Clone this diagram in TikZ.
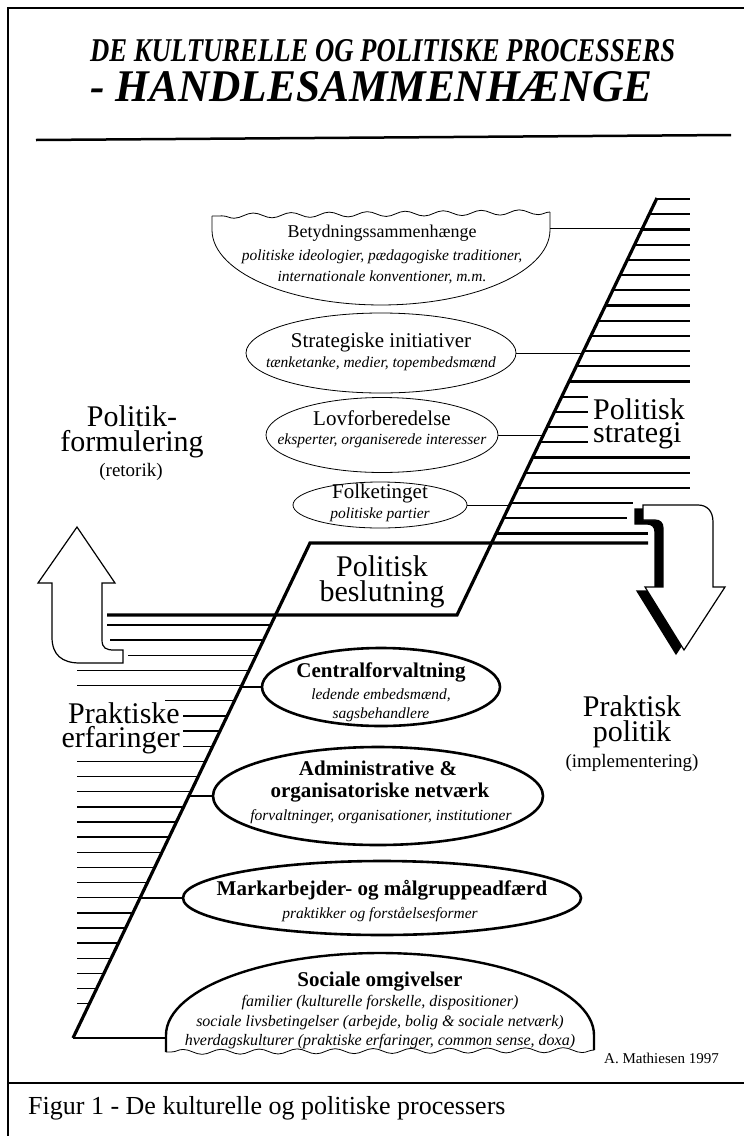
\documentclass[tikz,border=0pt]{standalone}
\usepackage{graphicx}
\usepackage{fontspec}
\setmainfont{Liberation Serif}
\usetikzlibrary{shapes.geometric,decorations.pathmorphing}

\begin{document}
\begin{tikzpicture}[x=1pt, y=-1pt,
	thinell/.style={ellipse, draw, line width=0.8pt, inner sep=0pt},
	boldell/.style={ellipse, draw, line width=2.6pt, inner sep=0pt},
	link/.style={line width=0.8pt},
	boldlink/.style={line width=2.2pt},
	slant/.style={line width=3.2pt},
	hatch/.style={line width=2.2pt},
	lhatch/.style={line width=1.4pt},
	wave/.style={decorate, decoration={snake, amplitude=2.5pt, segment length=38pt}, line width=0.8pt},
	eltitle/.style={font=\fontsize{21}{21}\selectfont, inner sep=0pt},
	elbold/.style={font=\fontsize{21}{21}\selectfont\bfseries, inner sep=0pt},
	elsub/.style={font=\fontsize{15.5}{15.5}\selectfont\itshape, inner sep=0pt},
	biglab/.style={font=\fontsize{30}{25}\selectfont, inner sep=0pt, align=center},
	parenlab/.style={font=\fontsize{19}{19}\selectfont, inner sep=0pt}
	]
	\useasboundingbox (0,0) rectangle (744,1136);
	
	% Frame and caption
	\draw[line width=2.5pt] (8,1136) -- (8,8) -- (744,8);
	\draw[line width=2.5pt] (8,1083) -- (744,1083);
	\node[anchor=west, inner sep=0pt, font=\fontsize{26}{26}\selectfont] (caption) at (28,1108) {Figur 1 - De kulturelle og politiske processers};
	
	% Title
	\node[anchor=south west, inner sep=0pt] (title1) at (90,62) {\resizebox{585pt}{22pt}{\bfseries\itshape DE KULTURELLE OG POLITISKE PROCESSERS}};
	\node[anchor=south west, inner sep=0pt] (title2) at (90,102) {\resizebox{562pt}{30pt}{\bfseries\itshape - HANDLESAMMENHÆNGE}};
	\draw[line width=2.5pt] (36,140) -- (731,135);
	
	% Stairs {lower slant, platform, upper slant}
	\coordinate (lowC) at (73,1038);
	\coordinate (platTL) at (310,543);
	\coordinate (platBR) at (457,615);
	\coordinate (topS) at (657,198);
	\foreach \k/\xe [evaluate=\k as \yy using 199+15.2*\k, evaluate=\k as \xx using 457+(615-(199+15.2*\k))*0.479] in
	{0/690,1/690,2/690,3/690,4/690,5/690,6/690,7/690,8/690,9/690,10/690,11/690,12/690,
	 13/588,14/588,15/588,16/588,17/690,18/690,19/690,20/633,21/627,22/648}
	\draw[hatch] (\xx,\yy) -- (\xe,\yy);
	\foreach \j/\xs [evaluate=\j as \yy using 625+15.15*\j, evaluate=\j as \xx using 73+(1038-(625+15.15*\j))*0.479] in
	{0/107,1/110,2/128,3/77,4/77,5/165,6/183,7/183,8/183,9/77,10/77,11/77,12/77,13/77,
	 14/77,15/77,16/77,17/77,18/77,19/77,20/77,21/77,22/77,23/77,24/77,25/77}
	\draw[lhatch] (\xs,\yy) -- (\xx,\yy);
	\draw[slant] (lowC) -- (platTL) -- (648,543);
	\draw[slant] (107,615) -- (platBR) -- (topS);
	
	% Upper group
	\draw[wave] (550,212) -- (212,216);
	\draw[line width=0.8pt] (212,216) -- plot[domain=180:360, samples=60] ({381+169*cos(\x)}, {230-75*sin(\x)}) -- (550,212);
	\coordinate (betyd) at (550,228);
	\node[font=\fontsize{18}{18}\selectfont, inner sep=0pt] (betydT) at (382,233) {Betydningssammenhænge};
	\node[elsub] (betydS1) at (382,257) {politiske ideologier, pædagogiske traditioner,};
	\node[elsub] (betydS2) at (382,277) {internationale konventioner, m.m.};
	
	\node[thinell, minimum width=270pt, minimum height=80pt] (strat) at (381,353) {};
	\node[eltitle] (stratT) at (381,342) {Strategiske initiativer};
	\node[elsub] (stratS) at (381,364) {tænketanke, medier, topembedsmænd};
	
	\node[thinell, minimum width=232pt, minimum height=75pt] (lovf) at (382,435) {};
	\node[eltitle] (lovfT) at (382,418) {Lovforberedelse};
	\node[elsub] (lovfS) at (382,441) {eksperter, organiserede interesser};
	
	\node[thinell, minimum width=174pt, minimum height=46pt] (folk) at (380,505) {};
	\node[eltitle] (folkT) at (380,493) {Folketinget};
	\node[elsub] (folkS) at (380,515) {politiske partier};
	
	\coordinate (s1) at (642,228);
	\coordinate (s2) at (583,353);
	\coordinate (s3) at (543,435);
	\coordinate (s4) at (510,505);
	\draw[link] (betyd) -- (s1);
	\draw[link] (strat.east) -- (s2);
	\draw[link] (lovf.east) -- (s3);
	\draw[link] (folk.east) -- (s4);
	
	% Lower group
	\node[boldell, minimum width=238pt, minimum height=78pt] (central) at (381,687) {};
	\node[elbold] (centralT) at (381,672) {Centralforvaltning};
	\node[elsub] (centralS1) at (381,695) {ledende embedsmænd,};
	\node[elsub] (centralS2) at (381,715) {sagsbehandlere};
	
	\node[boldell, minimum width=330pt, minimum height=98pt] (admin) at (378,796) {};
	\node[elbold] (adminT1) at (378,768) {Administrative \&};
	\node[elbold] (adminT2) at (380,793) {organisatoriske netværk};
	\node[elsub] (adminS) at (381,817) {forvaltninger, organisationer, institutioner};
	
	\node[boldell, minimum width=398pt, minimum height=74pt] (mark) at (382,898) {};
	\node[elbold] (markT) at (382,890) {Markarbejder- og målgruppeadfærd};
	\node[elsub] (markS) at (380,915) {praktikker og forståelsesformer};
	
	\draw[line width=2.4pt] (166,1052) -- (166,1035) -- plot[domain=180:0, samples=60] ({380+214*cos(\x)}, {1035-82*sin(\x)}) -- (594,1050);
	\draw[wave] (594,1050) -- (166,1052);
	\coordinate (social) at (166,1038);
	\node[elbold] (socialT) at (380,982) {Sociale omgivelser};
	\node[elsub, font=\fontsize{16}{16}\selectfont\itshape] (socialS1) at (380,1003) {familier (kulturelle forskelle, dispositioner)};
	\node[elsub, font=\fontsize{16}{16}\selectfont\itshape] (socialS2) at (380,1023) {sociale livsbetingelser (arbejde, bolig \& sociale netværk)};
	\node[elsub, font=\fontsize{16}{16}\selectfont\itshape] (socialS3) at (380,1042) {hverdagskulturer (praktiske erfaringer, common sense, doxa)};
	
	\coordinate (s5) at (241,687);
	\coordinate (s6) at (189,796);
	\coordinate (s7) at (140,898);
	\draw[boldlink] (s5) -- (central.west);
	\draw[boldlink] (s6) -- (admin.west);
	\draw[boldlink] (s7) -- (mark.west);
	\draw[line width=2.6pt] (lowC) -- (social);
	
	% Big labels
	\node[biglab] (polform) at (132,432) {Politik-\\formulering};
	\node[parenlab] (retorik) at (131,472) {(retorik)};
	\node[biglab, align=left, anchor=west, font=\fontsize{30}{23}\selectfont] (polstr) at (593,424) {Politisk\\strategi};
	\node[biglab] (polbes) at (382,582) {Politisk\\beslutning};
	\node[biglab] (prpol) at (632,722) {Praktisk\\politik};
	\node[parenlab] (implem) at (632,763) {(implementering)};
	\node[biglab, align=right, anchor=east, font=\fontsize{30}{24}\selectfont] (prerf) at (180,728) {Praktiske\\erfaringer};
	\node[anchor=east, inner sep=0pt, font=\fontsize{15}{15}\selectfont] (author) at (719,1058) {A. Mathiesen 1997};
	
	% Arrows
	\draw[line width=1.2pt, fill=white] (77,527) -- (115,583) -- (102,583) -- (102,640)
		.. controls (102,648) and (106,650) .. (114,650) -- (123,650) -- (123,663) -- (80,663)
		.. controls (62,663) and (52,655) .. (52,637) -- (52,583) -- (38,583) -- cycle;
	\foreach \dx/\dy/\fc in {-8/4/black, 0/0/white}
	\draw[line width=1.2pt, fill=\fc, shift={(\dx,\dy)}] (643,505) -- (698,505)
		.. controls (707,505) and (713,511) .. (713,522) -- (713,587) -- (725,587) -- (684,650)
		-- (645,587) -- (663,587) -- (663,528) .. controls (663,523) and (660,520) .. (655,520)
		-- (643,520) -- cycle;
	
\end{tikzpicture}
\end{document}
